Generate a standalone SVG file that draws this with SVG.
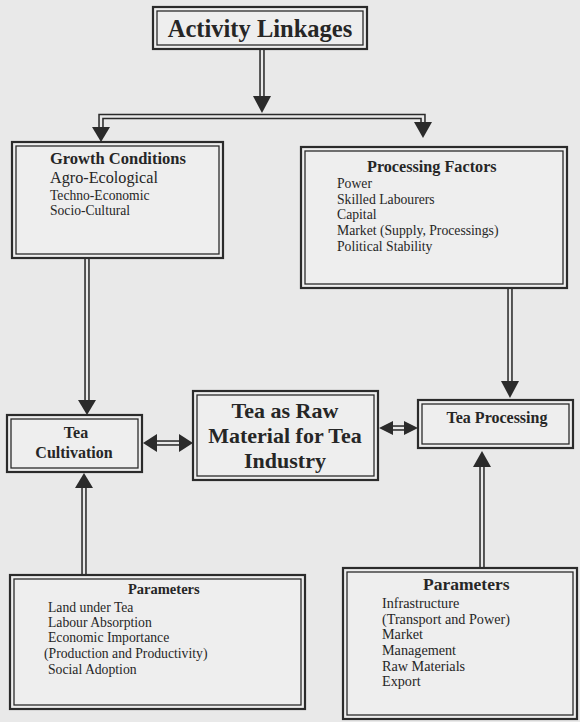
<svg xmlns="http://www.w3.org/2000/svg" width="580" height="722" viewBox="0 0 580 722">
<style>
  .bg{fill:#e9e9e9}
  .frame{fill:#eeeeee;stroke:#2b2b2b;stroke-width:2.2}
  .inner{fill:none;stroke:#2b2b2b;stroke-width:1.3}
  .lo{fill:none;stroke:#2b2b2b;stroke-width:5.5;stroke-linejoin:miter}
  .li{fill:none;stroke:#e9e9e9;stroke-width:2.4;stroke-linejoin:miter}
  .ah{fill:#2b2b2b}
  text{font-family:"Liberation Serif","Times New Roman",serif;fill:#262626}
  .b{font-weight:bold}
</style>
<rect class="bg" x="0" y="0" width="580" height="722"/>

<g id="connectors">
  <path class="lo" d="M262,49 V97"/>
  <path class="lo" d="M101,128 V116.5 H423 V123"/>
  <path class="lo" d="M87,258 V401"/>
  <path class="lo" d="M510,288 V382"/>
  <path class="lo" d="M84,575 V487"/>
  <path class="lo" d="M482,568 V466"/>
  <path class="lo" d="M156,443 H180"/>
  <path class="lo" d="M392,428 H405"/>
  <path class="li" d="M262,49 V97"/>
  <path class="li" d="M101,128 V116.5 H423 V123"/>
  <path class="li" d="M87,258 V401"/>
  <path class="li" d="M510,288 V382"/>
  <path class="li" d="M84,575 V487"/>
  <path class="li" d="M482,568 V466"/>
  <path class="li" d="M156,443 H180"/>
  <path class="li" d="M392,428 H405"/>
  <polygon class="ah" points="253,96 271,96 262,113"/>
  <polygon class="ah" points="92,127 110,127 101,142"/>
  <polygon class="ah" points="414,122 432,122 423,138"/>
  <polygon class="ah" points="78,400 96,400 87,415"/>
  <polygon class="ah" points="501,381 519,381 510,398"/>
  <polygon class="ah" points="75,488 93,488 84,473"/>
  <polygon class="ah" points="473,467 491,467 482,451"/>
  <polygon class="ah" points="157,434 157,452 143,443"/>
  <polygon class="ah" points="179,434 179,452 193,443"/>
  <polygon class="ah" points="393,421 393,435 379,428"/>
  <polygon class="ah" points="404,421 404,435 418,428"/>
</g>

<g id="activity-linkages">
  <rect class="frame" x="153" y="7" width="214" height="42"/>
  <rect class="inner" x="157" y="11" width="206" height="34"/>
  <text class="b" x="260" y="37" font-size="24.5" text-anchor="middle">Activity Linkages</text>
</g>

<g id="growth-conditions">
  <rect class="frame" x="12" y="142" width="211" height="116"/>
  <rect class="inner" x="16" y="146" width="203" height="108"/>
  <text class="b" x="50" y="164" font-size="16.5">Growth Conditions</text>
  <text x="50" y="183" font-size="16.2">Agro-Ecological</text>
  <text x="50" y="200" font-size="13.6">Techno-Economic</text>
  <text x="50" y="215" font-size="13.6">Socio-Cultural</text>
</g>

<g id="processing-factors">
  <rect class="frame" x="301" y="147" width="266" height="141"/>
  <rect class="inner" x="305" y="151" width="258" height="133"/>
  <text class="b" x="367" y="172" font-size="16.2">Processing Factors</text>
  <text x="337" y="188" font-size="13.7">Power</text>
  <text x="337" y="203.5" font-size="13.7">Skilled Labourers</text>
  <text x="337" y="219" font-size="13.7">Capital</text>
  <text x="337" y="235" font-size="13.7">Market (Supply, Processings)</text>
  <text x="337" y="251" font-size="13.7">Political Stability</text>
</g>

<g id="tea-cultivation">
  <rect class="frame" x="7" y="415" width="135" height="57"/>
  <rect class="inner" x="11" y="419" width="127" height="49"/>
  <text class="b" x="76" y="438" font-size="16" text-anchor="middle">Tea</text>
  <text class="b" x="74" y="458" font-size="16" text-anchor="middle">Cultivation</text>
</g>

<g id="tea-raw-material">
  <rect class="frame" x="193" y="391" width="185" height="89"/>
  <rect class="inner" x="197" y="395" width="177" height="81"/>
  <text class="b" x="285" y="418" font-size="22" text-anchor="middle">Tea as Raw</text>
  <text class="b" x="285" y="443" font-size="22" text-anchor="middle">Material for Tea</text>
  <text class="b" x="285" y="468" font-size="22" text-anchor="middle">Industry</text>
</g>

<g id="tea-processing">
  <rect class="frame" x="418" y="400" width="155" height="48"/>
  <rect class="inner" x="422" y="404" width="147" height="40"/>
  <text class="b" x="497" y="423" font-size="16" text-anchor="middle">Tea Processing</text>
</g>

<g id="parameters-left">
  <rect class="frame" x="10" y="575" width="295" height="134"/>
  <rect class="inner" x="14" y="579" width="287" height="126"/>
  <text class="b" x="128" y="594" font-size="14.5">Parameters</text>
  <text x="48" y="612" font-size="13.7">Land under Tea</text>
  <text x="48" y="627" font-size="13.7">Labour Absorption</text>
  <text x="48" y="642" font-size="13.7">Economic Importance</text>
  <text x="44" y="658" font-size="13.7">(Production and Productivity)</text>
  <text x="48" y="674" font-size="13.7">Social Adoption</text>
</g>

<g id="parameters-right">
  <rect class="frame" x="343" y="568" width="234" height="151"/>
  <rect class="inner" x="347" y="572" width="226" height="143"/>
  <text class="b" x="423" y="590" font-size="17.5">Parameters</text>
  <text x="382" y="608" font-size="14.2">Infrastructure</text>
  <text x="382" y="623.5" font-size="14.2">(Transport and Power)</text>
  <text x="382" y="639" font-size="14.2">Market</text>
  <text x="382" y="655" font-size="14.2">Management</text>
  <text x="382" y="670.5" font-size="14.2">Raw Materials</text>
  <text x="382" y="686" font-size="14.2">Export</text>
</g>
</svg>
